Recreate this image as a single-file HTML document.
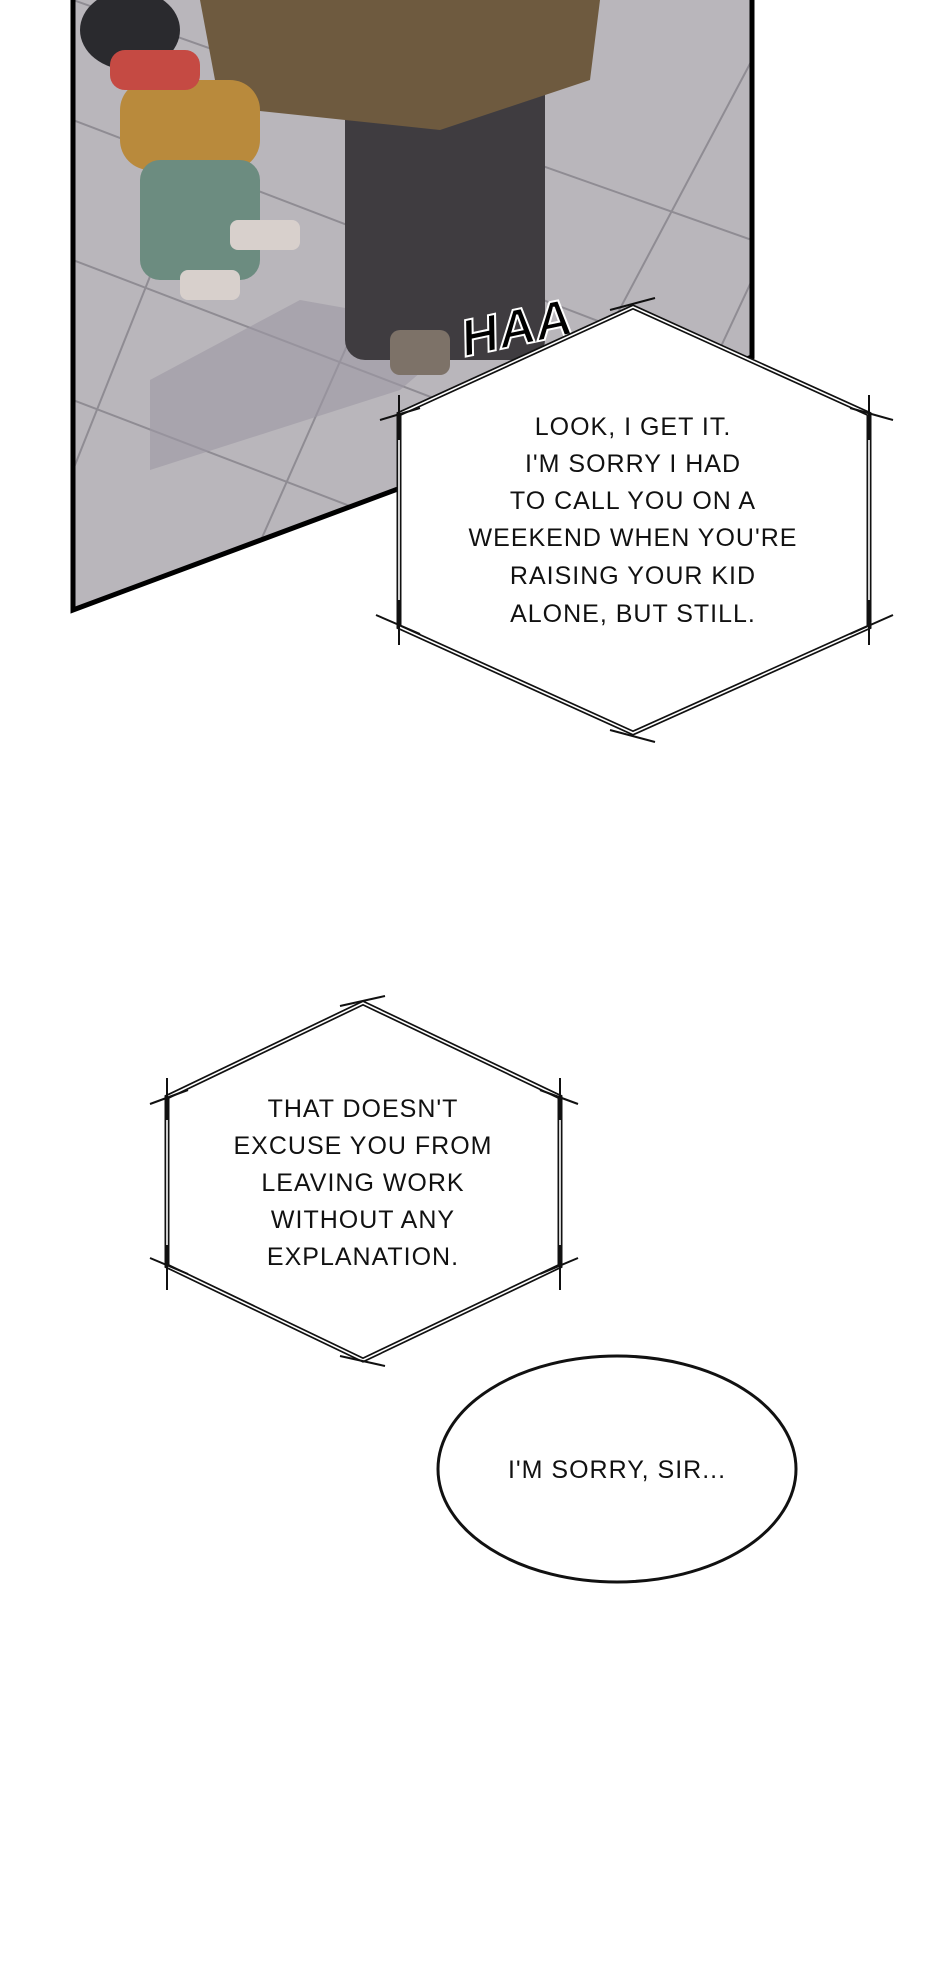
<!DOCTYPE html>
<html><head><meta charset="utf-8"><style>
html,body{margin:0;padding:0;background:#fff;}
body{width:940px;height:1983px;position:relative;overflow:hidden;font-family:"Liberation Sans",sans-serif;}
svg{position:absolute;left:0;top:0;}
.t{font-family:"Liberation Sans",sans-serif;font-size:25px;fill:#111;text-anchor:middle;letter-spacing:1px;}
</style></head><body>
<svg width="940" height="1983" viewBox="0 0 940 1983">
<defs>
<clipPath id="pc"><polygon points="73,0 752,0 752,357 73,610"/></clipPath>
</defs>
<g clip-path="url(#pc)">
<rect x="73" y="0" width="679" height="610" fill="#b9b6bb"/>
<g stroke="#8f8c93" stroke-width="2" fill="none">
<line x1="73" y1="120" x2="752" y2="380"/><line x1="73" y1="260" x2="752" y2="520"/>
<line x1="73" y1="400" x2="752" y2="660"/><line x1="73" y1="0" x2="752" y2="240"/>
<line x1="260" y1="0" x2="73" y2="470"/><line x1="500" y1="0" x2="230" y2="610"/>
<line x1="752" y1="60" x2="460" y2="610"/><line x1="752" y1="280" x2="640" y2="520"/>
</g>
<polygon points="150,470 400,390 470,330 300,300 150,380" fill="#9c98a4" opacity="0.6"/>
<rect x="345" y="60" width="200" height="300" rx="20" fill="#3f3c40"/>
<rect x="390" y="330" width="60" height="45" rx="10" fill="#7d7268"/>
<polygon points="200,0 600,0 590,80 440,130 250,110 215,80" fill="#6e5a3f"/>
<rect x="120" y="80" width="140" height="90" rx="30" fill="#b98a3c"/>
<rect x="140" y="160" width="120" height="120" rx="20" fill="#6c8c80"/>
<rect x="180" y="270" width="60" height="30" rx="8" fill="#d8d0cc"/>
<rect x="230" y="220" width="70" height="30" rx="8" fill="#d8d0cc"/>
<ellipse cx="130" cy="30" rx="50" ry="40" fill="#2a2a2e"/>
<rect x="110" y="50" width="90" height="40" rx="15" fill="#c54a43"/>
</g>
<polyline points="73,0 73,610 752,357 752,0" fill="none" stroke="#000" stroke-width="5"/>
<text x="520" y="345" transform="rotate(-12 520 345)" font-family="Liberation Sans" font-weight="bold" font-style="italic" font-size="52" fill="#000" stroke="#fff" stroke-width="2" text-anchor="middle">HAA</text>

<g fill="#fff" stroke="#111" stroke-width="5" stroke-linejoin="miter">
<polygon points="633,307 869,414 869,627 633,733 399,627 399,414"/>
<polygon points="363,1003 560,1097 560,1266 363,1360 167,1266 167,1097"/>
</g>
<g fill="none" stroke="#fff" stroke-width="1.6">
<polygon points="633,307 869,414 869,627 633,733 399,627 399,414"/>
<polygon points="363,1003 560,1097 560,1266 363,1360 167,1266 167,1097"/>
</g>
<g stroke="#111" stroke-width="2" fill="none">
<line x1="610" y1="310" x2="655" y2="298"/><line x1="610" y1="730" x2="655" y2="742"/>
<line x1="869" y1="395" x2="869" y2="440"/><line x1="869" y1="600" x2="869" y2="645"/>
<line x1="399" y1="395" x2="399" y2="440"/><line x1="399" y1="600" x2="399" y2="645"/>
<line x1="850" y1="408" x2="893" y2="420"/><line x1="850" y1="634" x2="893" y2="615"/>
<line x1="380" y1="420" x2="420" y2="408"/><line x1="376" y1="615" x2="420" y2="634"/>
<line x1="340" y1="1006" x2="385" y2="996"/><line x1="340" y1="1356" x2="385" y2="1366"/>
<line x1="560" y1="1078" x2="560" y2="1120"/><line x1="560" y1="1245" x2="560" y2="1290"/>
<line x1="167" y1="1078" x2="167" y2="1120"/><line x1="167" y1="1245" x2="167" y2="1290"/>
<line x1="540" y1="1090" x2="578" y2="1104"/><line x1="540" y1="1274" x2="578" y2="1258"/>
<line x1="150" y1="1104" x2="188" y2="1090"/><line x1="150" y1="1258" x2="188" y2="1274"/>
</g>
<ellipse cx="617" cy="1469" rx="179" ry="113" fill="#fff" stroke="#111" stroke-width="3"/>

<g class="t">
<text class="t" x="633" y="435">LOOK, I GET IT.</text>
<text class="t" x="633" y="472">I'M SORRY I HAD</text>
<text class="t" x="633" y="509">TO CALL YOU ON A</text>
<text class="t" x="633" y="546">WEEKEND WHEN YOU'RE</text>
<text class="t" x="633" y="584">RAISING YOUR KID</text>
<text class="t" x="633" y="622">ALONE, BUT STILL.</text>
<text class="t" x="363" y="1117">THAT DOESN'T</text>
<text class="t" x="363" y="1154">EXCUSE YOU FROM</text>
<text class="t" x="363" y="1191">LEAVING WORK</text>
<text class="t" x="363" y="1228">WITHOUT ANY</text>
<text class="t" x="363" y="1265">EXPLANATION.</text>
<text class="t" x="617" y="1478">I'M SORRY, SIR...</text>
</g>
</svg>
</body></html>
